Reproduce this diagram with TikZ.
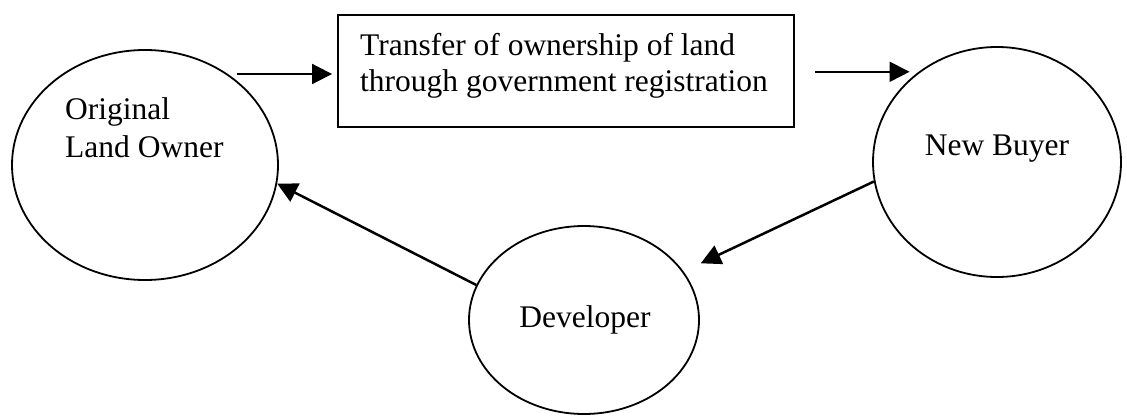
\documentclass[tikz,border=0pt]{standalone}
\usepackage{fontspec}
\setmainfont{Liberation Serif}
\usetikzlibrary{shapes.geometric,arrows.meta}
\begin{document}
\begin{tikzpicture}[x=1pt,y=-1pt,
  oval/.style={draw, ellipse, line width=1.8pt, inner sep=0pt},
  lbl/.style={inner sep=0pt, font=\fontsize{31.5}{37}\selectfont},
  arr/.style={-{Triangle[length=20pt,width=20pt]}, line width=1.8pt},
  darr/.style={arr, line width=2.5pt},
  frame/.style={draw, line width=1.8pt, inner sep=0pt}]
\useasboundingbox (0,0) rectangle (1127,415);
% shapes
\node[oval, minimum width=266pt, minimum height=230pt] (olo) at (145,165) {};
\node[oval, minimum width=248pt, minimum height=230pt] (nb) at (997,162) {};
\node[oval, minimum width=230pt, minimum height=188pt] (dev) at (584,320) {};
\node[frame, minimum width=456pt, minimum height=112pt] (box) at (566,71) {};
% labels
\node[lbl, anchor=base west] (t1) at (360,55) {Transfer of ownership of land};
\node[lbl, anchor=base west] (t2) at (360,91) {through government registration};
\node[lbl, anchor=base west] (o1) at (65,119) {Original};
\node[lbl, anchor=base west] (o2) at (65,157) {Land Owner};
\node[lbl, anchor=base] (nbl) at (997,155) {New Buyer};
\node[lbl, anchor=base] (devl) at (585,327) {Developer};
% connectors
\coordinate (s1) at (237,74);
\draw[arr, shorten >=5pt] (s1) -- (s1 -| box.west);
\draw[arr, shorten <=20pt, shorten >=9pt] (box.east |- nb.131) -- (nb.131);
\draw[darr, shorten >=19pt] (nb.189) -- (dev.26);
\draw[darr] (dev.162) -- (olo.352);
\end{tikzpicture}
\end{document}
